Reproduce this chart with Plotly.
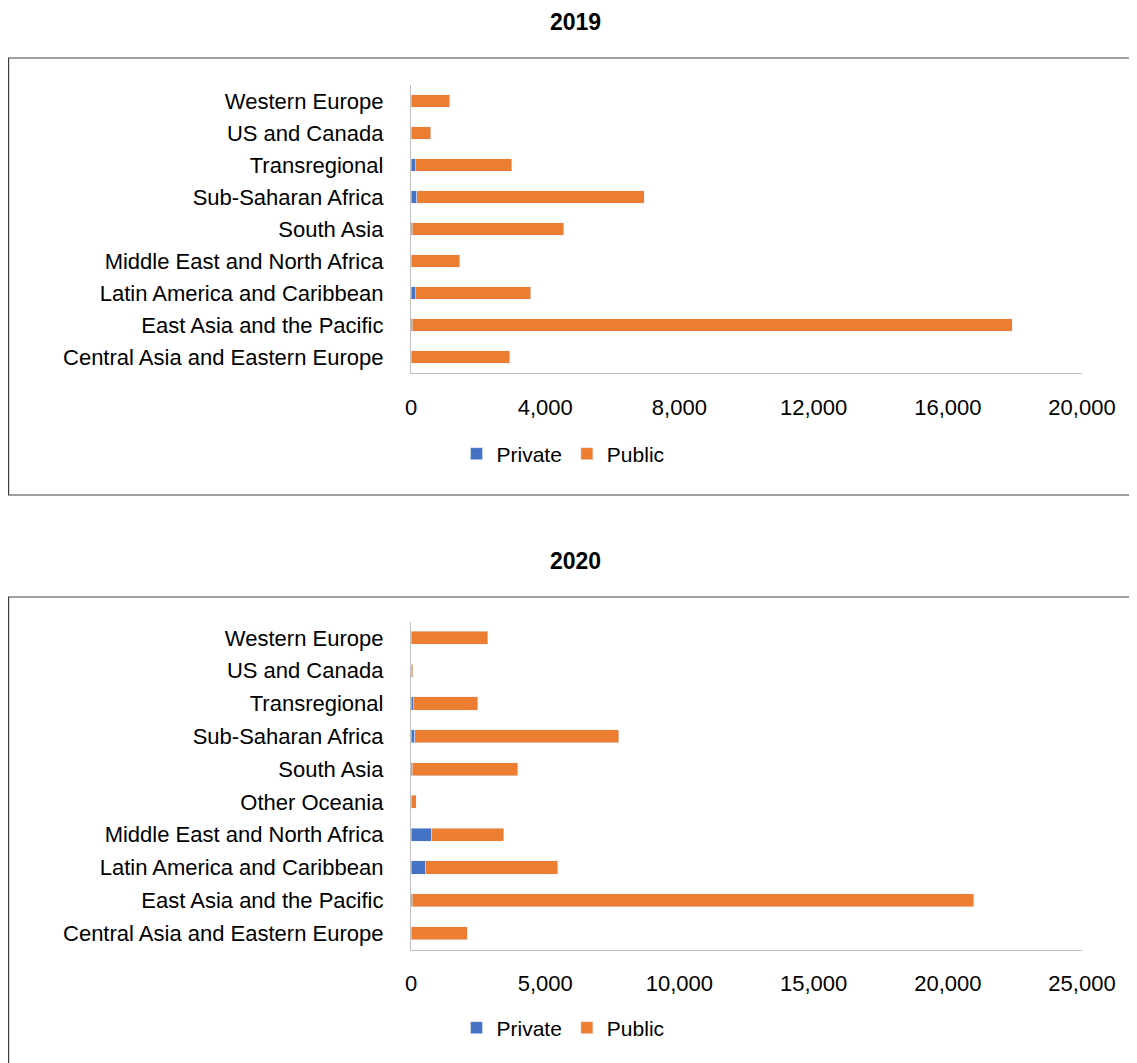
import plotly.graph_objects as go

cats_2019 = ["Central Asia and Eastern Europe", "East Asia and the Pacific", "Latin America and Caribbean",
             "Middle East and North Africa", "South Asia", "Sub-Saharan Africa", "Transregional",
             "US and Canada", "Western Europe"]
private_2019 = [0, 40, 130, 0, 40, 170, 130, 0, 0]
public_2019 = [2940, 17880, 3440, 1450, 4520, 6780, 2880, 590, 1150]

cats_2020 = ["Central Asia and Eastern Europe", "East Asia and the Pacific", "Latin America and Caribbean",
             "Middle East and North Africa", "Other Oceania", "South Asia", "Sub-Saharan Africa",
             "Transregional", "US and Canada", "Western Europe"]
private_2020 = [0, 40, 550, 780, 0, 40, 140, 90, 0, 0]
public_2020 = [2100, 20930, 4920, 2680, 190, 3930, 7600, 2390, 60, 2860]

W, H = 1137, 1063
OFF = 8  # page body margin
FONT = "Arial, Liberation Sans, sans-serif"
BLUE = "#4472C4"
ORANGE = "#ED7D31"


def px(p):
    return (p - OFF) / W


def py(p):
    return 1 - (p - OFF) / H


fig = go.Figure()
fig.add_trace(go.Bar(y=cats_2019, x=private_2019, orientation="h", name="Private", marker_color=BLUE,
                     xaxis="x", yaxis="y", legend="legend"))
fig.add_trace(go.Bar(y=cats_2019, x=public_2019, orientation="h", name="Public", marker_color=ORANGE,
                     xaxis="x", yaxis="y", legend="legend"))
fig.add_trace(go.Bar(y=cats_2020, x=private_2020, orientation="h", name="Private", marker_color=BLUE,
                     xaxis="x2", yaxis="y2", legend="legend2"))
fig.add_trace(go.Bar(y=cats_2020, x=public_2020, orientation="h", name="Public", marker_color=ORANGE,
                     xaxis="x2", yaxis="y2", legend="legend2"))

xd = [px(411), px(1082)]
axis_common = dict(showgrid=False, zeroline=False, showline=True, linecolor="#BFBFBF", linewidth=1.3,
                   automargin=False, tickfont=dict(family=FONT, size=22, color="#000000"))

fig.update_layout(
    width=W, height=H, margin=dict(l=0, r=0, t=0, b=0, autoexpand=False),
    paper_bgcolor="white", plot_bgcolor="white",
    barmode="stack", bargap=0.6,
    font=dict(family=FONT, color="#000000"),
    xaxis=dict(domain=xd, anchor="y", range=[0, 20000], tickvals=[0, 4000, 8000, 12000, 16000, 20000],
               tickformat=",", ticks="", ticklabelstandoff=14, **axis_common),
    yaxis=dict(domain=[py(373), py(85)], anchor="x", categoryorder="array", categoryarray=cats_2019,
               range=[-0.5, 8.5], ticks="", ticklabelstandoff=22, **axis_common),
    xaxis2=dict(domain=xd, anchor="y2", range=[0, 25000], tickvals=[0, 5000, 10000, 15000, 20000, 25000],
                tickformat=",", ticks="", ticklabelstandoff=14, **axis_common),
    yaxis2=dict(domain=[py(949.5), py(621.5)], anchor="x2", categoryorder="array", categoryarray=cats_2020,
                range=[-0.5, 9.5], ticks="", ticklabelstandoff=22, **axis_common),
    legend=dict(orientation="h", x=px(563), y=py(454), xanchor="center", yanchor="middle",
                font=dict(family=FONT, size=21), traceorder="normal", itemwidth=30),
    legend2=dict(orientation="h", x=px(563), y=py(1028), xanchor="center", yanchor="middle",
                 font=dict(family=FONT, size=21), traceorder="normal", itemwidth=30),
    annotations=[
        dict(text="<b>2019</b>", x=px(575), y=py(22), xref="paper", yref="paper", showarrow=False,
             font=dict(family=FONT, size=23), xanchor="center", yanchor="middle"),
        dict(text="<b>2020</b>", x=px(575), y=py(561), xref="paper", yref="paper", showarrow=False,
             font=dict(family=FONT, size=23), xanchor="center", yanchor="middle"),
    ],
    shapes=[
        dict(type="rect", xref="paper", yref="paper", x0=px(8.6), x1=1.01, y0=py(495), y1=py(58),
             line=dict(color="#404040", width=1.2), fillcolor="rgba(0,0,0,0)", layer="below"),
        dict(type="rect", xref="paper", yref="paper", x0=px(8.6), x1=1.01, y0=-0.02, y1=py(597),
             line=dict(color="#404040", width=1.2), fillcolor="rgba(0,0,0,0)", layer="below"),
    ],
)

fig.write_html("out.html")
